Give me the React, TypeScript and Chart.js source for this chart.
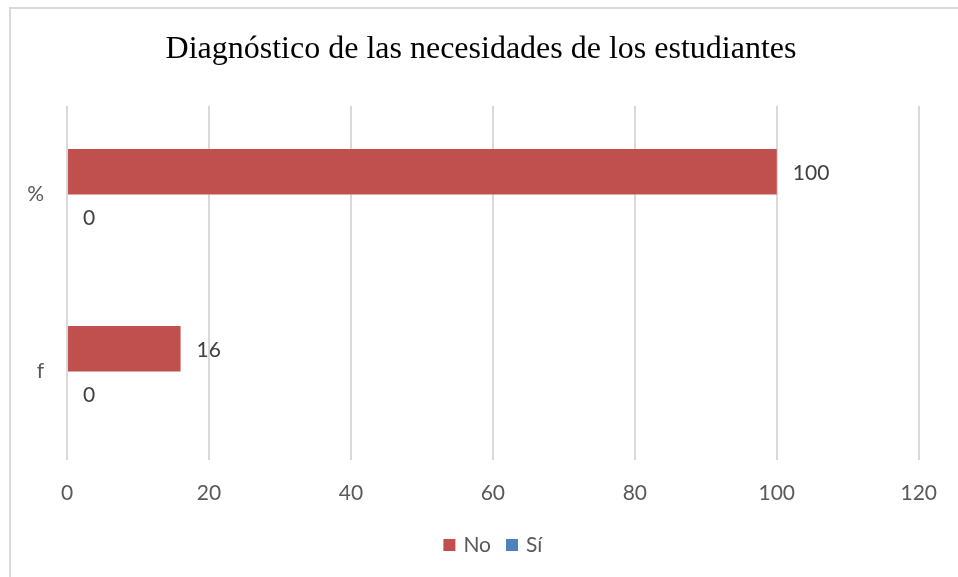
import React, { useEffect, useRef } from "react";
import { Chart, registerables } from "chart.js";

Chart.register(...registerables);

const TITLE = "Diagnóstico de las necesidades de los estudiantes";
const categories = ["%", "f"];
const seriesNames = ["No", "Sí"];
const noValues = [100, 16];
const siValues = [0, 0];
const xTicks = [0, 20, 40, 60, 80, 100, 120];
const colors = ["#C0504D", "#4F81BD"];

const FONT = "Lato, 'Open Sans', sans-serif";

const decorPlugin = {
  id: "decor",
  beforeDraw(chart: any) {
    const { ctx, width, height } = chart;
    ctx.save();
    ctx.fillStyle = "#ffffff";
    ctx.fillRect(0, 0, width, height);
    ctx.fillStyle = "#d9d9d9";
    ctx.fillRect(9, 7, 2, height);
    ctx.fillRect(9, 7, width, 2);
    ctx.restore();
  },
  afterDraw(chart: any) {
    const { ctx, chartArea } = chart;
    ctx.save();
    // title
    ctx.fillStyle = "#000000";
    ctx.font = "32px 'Liberation Serif', 'Times New Roman', serif";
    ctx.textAlign = "center";
    ctx.textBaseline = "middle";
    ctx.fillText(TITLE, 481, 50);

    // data labels
    ctx.font = `21px ${FONT}`;
    ctx.fillStyle = "#404040";
    ctx.textAlign = "left";
    ctx.textBaseline = "middle";
    chart.data.datasets.forEach((ds: any, di: number) => {
      const meta = chart.getDatasetMeta(di);
      meta.data.forEach((el: any, i: number) => {
        ctx.fillText(String(ds.data[i]), el.x + 16, el.y + 1);
      });
    });

    // legend
    ctx.font = `21px ${FONT}`;
    const box = 12;
    const gapBoxText = 8;
    const gapItems = 15;
    const items = chart.data.datasets.map((ds: any) => ({
      label: ds.label,
      color: ds.backgroundColor,
      w: ctx.measureText(ds.label).width,
    }));
    const total =
      items.reduce((s: number, it: any) => s + box + gapBoxText + it.w, 0) +
      gapItems * (items.length - 1);
    let x = (chartArea.left + chartArea.right) / 2 - total / 2;
    const cy = 545;
    items.forEach((it: any) => {
      ctx.fillStyle = it.color;
      ctx.fillRect(x, cy - box / 2, box, box);
      x += box + gapBoxText;
      ctx.fillStyle = "#595959";
      ctx.textAlign = "left";
      ctx.fillText(it.label, x, cy);
      x += it.w + gapItems;
    });
    ctx.restore();
  },
};

export default function App() {
  const ref = useRef<HTMLCanvasElement | null>(null);

  useEffect(() => {
    if (!ref.current) return;
    const chart = new Chart(ref.current, {
      type: "bar",
      data: {
        labels: categories,
        datasets: [
          {
            label: seriesNames[0],
            data: noValues,
            backgroundColor: colors[0],
            categoryPercentage: 0.514,
            barPercentage: 1,
          },
          {
            label: seriesNames[1],
            data: siValues,
            backgroundColor: colors[1],
            categoryPercentage: 0.514,
            barPercentage: 1,
          },
        ],
      },
      options: {
        indexAxis: "y",
        animation: false,
        responsive: false,
        maintainAspectRatio: false,
        layout: { padding: { top: 106, left: 0, right: 34, bottom: 57 } },
        plugins: {
          legend: { display: false },
          title: { display: false },
          tooltip: { enabled: false },
        },
        scales: {
          x: {
            min: 0,
            max: 120,
            afterFit(scale: any) {
              scale.height = 60;
            },
            afterBuildTicks(scale: any) {
              scale.ticks = xTicks.map((v) => ({ value: v }));
            },
            border: { display: false },
            grid: { color: "#d9d9d9", lineWidth: 2, drawTicks: false },
            ticks: {
              padding: 21,
              color: "#595959",
              font: { family: FONT, size: 21 },
            },
          },
          y: {
            afterFit(scale: any) {
              scale.width = 67;
            },
            border: { display: false },
            grid: { display: false, drawTicks: false },
            ticks: {
              padding: 23,
              color: "#595959",
              font: { family: FONT, size: 21 },
            },
          },
        },
      },
      plugins: [decorPlugin],
    });
    return () => chart.destroy();
  }, []);

  return (
    <div style={{ position: "fixed", left: 0, top: 0, width: 958, height: 577 }}>
      <canvas ref={ref} width={958} height={577} style={{ width: 958, height: 577, display: "block" }} />
    </div>
  );
}
